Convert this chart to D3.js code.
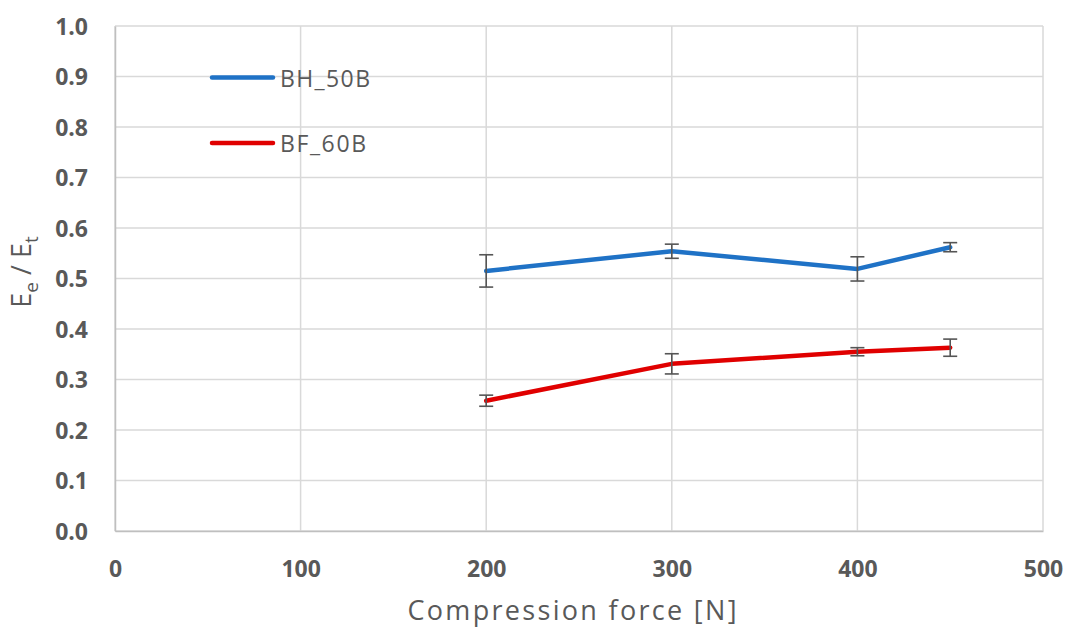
<!DOCTYPE html>
<html>
<head>
<meta charset="utf-8">
<script src="https://cdn.jsdelivr.net/npm/d3@7"></script>
<style>
  body { margin: 0; background: #fff; }
  svg { display: block; font-family: "Open Sans", "Noto Sans", sans-serif; }
</style>
</head>
<body>
<svg id="chart" width="1067" height="628"></svg>
<script>
// Compression force levels [N]
const forces = [200, 300, 400, 450];
// Ratio E_e / E_t per series, with standard deviation
const bh50bValues = [0.515, 0.554, 0.519, 0.562];
const bh50bErrors = [0.032, 0.014, 0.024, 0.009];
const bf60bValues = [0.258, 0.331, 0.355, 0.363];
const bf60bErrors = [0.011, 0.020, 0.008, 0.017];
const seriesNames = ["BH_50B", "BF_60B"];
const seriesColors = ["#1f72c6", "#e00000"];
const xTicks = [0, 100, 200, 300, 400, 500];
const yTicks = [0, 0.1, 0.2, 0.3, 0.4, 0.5, 0.6, 0.7, 0.8, 0.9, 1.0];

const svg = d3.select("#chart");
const margin = { left: 115, right: 1043, top: 26, bottom: 531 };

const x = d3.scaleLinear().domain([0, 500]).range([margin.left, margin.right]);
const y = d3.scaleLinear().domain([0, 1]).range([margin.bottom, margin.top]);

const grid = svg.append("g").attr("stroke", "#d9d9d9").attr("stroke-width", 1.5);
grid.selectAll("line.h").data(yTicks).join("line")
  .attr("x1", margin.left).attr("x2", margin.right)
  .attr("y1", d => y(d)).attr("y2", d => y(d));
grid.selectAll("line.v").data(xTicks).join("line")
  .attr("y1", margin.top).attr("y2", margin.bottom)
  .attr("x1", d => x(d)).attr("x2", d => x(d));

// Axes
const yAxis = svg.append("g")
  .attr("transform", `translate(${margin.left},0)`)
  .call(d3.axisLeft(y).tickValues(yTicks).tickFormat(d3.format(".1f")).tickSize(0).tickPadding(27));
const xAxis = svg.append("g")
  .attr("transform", `translate(0,${margin.bottom})`)
  .call(d3.axisBottom(x).tickValues(xTicks).tickFormat(d3.format("d")).tickSize(0).tickPadding(0));
[yAxis, xAxis].forEach(a => {
  a.select(".domain").attr("stroke", "#bfbfbf").attr("stroke-width", 1.5);
  a.selectAll("text")
    .attr("fill", "#595959")
    .style("font-size", "23px")
    .style("font-weight", "bold")
    .style("font-family", "'Open Sans', sans-serif");
});
yAxis.selectAll("text").attr("dy", "0.35em");
xAxis.selectAll("text").attr("y", 38).attr("dy", "0.35em");

// Series lines and error bars
const series = [
  { name: seriesNames[0], color: seriesColors[0], values: bh50bValues, errors: bh50bErrors },
  { name: seriesNames[1], color: seriesColors[1], values: bf60bValues, errors: bf60bErrors }
];

const line = d3.line().x(d => x(d.f)).y(d => y(d.v));

series.forEach(s => {
  const pts = forces.map((f, i) => ({ f, v: s.values[i], e: s.errors[i] }));
  svg.append("path")
    .datum(pts)
    .attr("fill", "none")
    .attr("stroke", s.color)
    .attr("stroke-width", 4.5)
    .attr("stroke-linejoin", "round")
    .attr("stroke-linecap", "round")
    .attr("d", line);

  const eb = svg.append("g").attr("stroke", "#555").attr("stroke-width", 1.6);
  const capHalf = 7;
  pts.forEach(p => {
    const y0 = y(p.v - p.e), y1 = y(p.v + p.e), cx = x(p.f);
    eb.append("line").attr("x1", cx).attr("x2", cx).attr("y1", y0).attr("y2", y1);
    eb.append("line").attr("x1", cx - capHalf).attr("x2", cx + capHalf).attr("y1", y0).attr("y2", y0);
    eb.append("line").attr("x1", cx - capHalf).attr("x2", cx + capHalf).attr("y1", y1).attr("y2", y1);
  });
});

// Legend
const legend = svg.append("g");
series.forEach((s, i) => {
  const ly = 77.5 + i * 65.5;
  legend.append("line")
    .attr("x1", 212).attr("x2", 273).attr("y1", ly).attr("y2", ly)
    .attr("stroke", s.color).attr("stroke-width", 4.5).attr("stroke-linecap", "round");
  legend.append("text")
    .attr("x", 280).attr("y", ly + 1).attr("dy", "0.35em")
    .attr("fill", "#595959")
    .style("font-size", "23px")
    .attr("textLength", i === 0 ? 90 : 86)
    .attr("lengthAdjust", "spacing")
    .text(s.name);
});

// Axis titles
svg.append("text")
  .attr("x", 572).attr("y", 620)
  .attr("text-anchor", "middle")
  .attr("fill", "#595959")
  .style("font-size", "27px")
  .attr("textLength", 329)
  .attr("lengthAdjust", "spacing")
  .text("Compression force [N]");

const yt = svg.append("text")
  .attr("transform", `translate(31,272) rotate(-90)`)
  .attr("text-anchor", "middle")
  .attr("fill", "#595959")
  .style("font-size", "27px");
yt.append("tspan").text("E");
yt.append("tspan").attr("dy", 7).style("font-size", "19px").text("e");
yt.append("tspan").attr("dy", -7).text(" / E");
yt.append("tspan").attr("dy", 7).style("font-size", "19px").text("t");
</script>
</body>
</html>
